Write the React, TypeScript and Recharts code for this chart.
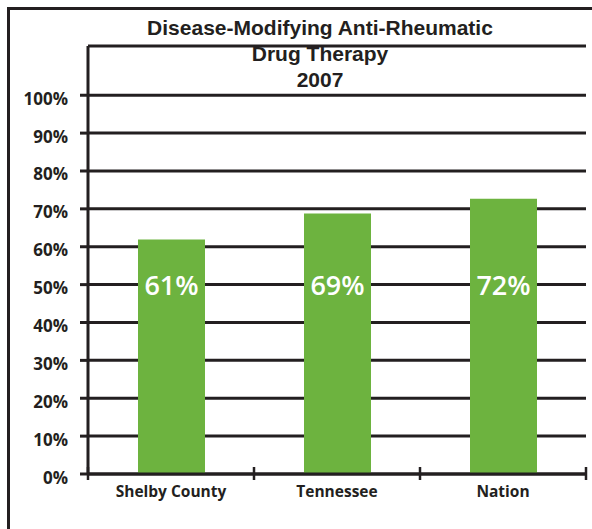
import { BarChart, Bar, XAxis, YAxis, CartesianGrid, LabelList } from 'recharts';

const INK = '#231f20';
const GREEN = '#6db33f';

const regions = ['Shelby County', 'Tennessee', 'Nation'];
const rates = [61.9, 68.8, 72.7];
const rateLabels = ['61%', '69%', '72%'];
const yTicks = [0, 10, 20, 30, 40, 50, 60, 70, 80, 90, 100];
const titleLines = ['Disease-Modifying Anti-Rheumatic', 'Drug Therapy', '2007'];

const data = regions.map((name, i) => ({ name, rate: rates[i], label: rateLabels[i] }));

// category label plus a cross tick at the group boundaries
const NameTick = ({ x, y, payload, index }: any) => {
  const half = payload?.offset ?? 0;
  const last = index === regions.length - 1;
  return (
    <g>
      <line x1={x - half} x2={x - half} y1={y - 7} y2={y + 6} stroke={INK} strokeWidth={2.5} />
      {last && <line x1={x + half} x2={x + half} y1={y - 7} y2={y + 6} stroke={INK} strokeWidth={2.5} />}
      <text x={x} y={y + 23} textAnchor="middle" fill={INK}
        fontFamily="'Open Sans', sans-serif" fontWeight={700} fontSize={15.5}>
        {payload.value}
      </text>
    </g>
  );
};

const PctTick = ({ x, y, payload }: any) => (
  <text x={x} y={y + 9.5} textAnchor="end" fill={INK}
    fontFamily="'Open Sans', sans-serif" fontWeight={700} fontSize={17}>
    {payload.value}%
  </text>
);

// label sits at the 50% level inside each bar
const InBarLabel = (props: any) => {
  const { x, y, width, height, value, index } = props;
  const rate = rates[index ?? 0];
  const bottom = y + height;
  const mid = bottom - (height * 50) / rate;
  return (
    <text x={x + width / 2} y={mid + 10} textAnchor="middle" fill="#fff"
      fontFamily="'Open Sans', sans-serif" fontWeight={600} fontSize={27}>
      {value}
    </text>
  );
};

export default function App() {
  return (
    <div style={{ position: 'fixed', left: 0, top: 0, width: 592, height: 529, overflow: 'hidden', background: '#fff' }}>
      <div style={{
        position: 'absolute', left: 7, top: 7, width: 700, height: 700,
        borderTop: `3px solid ${INK}`, borderLeft: `3px solid ${INK}`,
      }} />
      <div style={{ position: 'absolute', left: 0, top: 0 }}>
        <BarChart width={592} height={529} data={data} margin={{ top: 46, right: 6, bottom: 25, left: 0 }}>
          <CartesianGrid vertical={false} stroke={INK} strokeWidth={3} />
          <XAxis dataKey="name" height={30} axisLine={{ stroke: INK, strokeWidth: 3 }} tickLine={false}
            tickSize={0} tickMargin={0} interval={0} tick={<NameTick />} />
          <YAxis width={88} domain={[0, 113]} ticks={yTicks} interval={0} allowDataOverflow
            axisLine={{ stroke: INK, strokeWidth: 3 }} tickLine={{ stroke: INK, strokeWidth: 3 }}
            tickSize={8} tickMargin={12} tick={<PctTick />} />
          <Bar dataKey="rate" fill={GREEN} barSize={67} isAnimationActive={false}>
            <LabelList dataKey="label" content={<InBarLabel />} />
          </Bar>
        </BarChart>
      </div>
      <svg style={{ position: 'absolute', left: 0, top: 0 }} width={592} height={100}>
        {titleLines.map((t, i) => (
          <text key={t} x={320} y={35 + i * 26} textAnchor="middle" fill={INK}
            fontFamily="'Liberation Sans', Arial, sans-serif" fontWeight={700} fontSize={21}>
            {t}
          </text>
        ))}
      </svg>
    </div>
  );
}
